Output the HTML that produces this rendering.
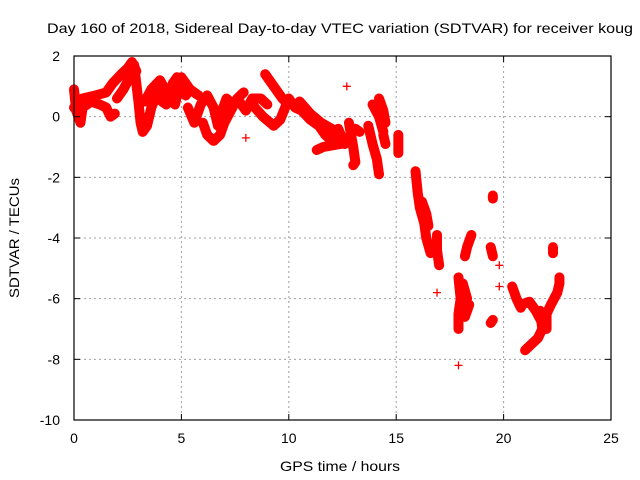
<!DOCTYPE html>
<html><head><meta charset="utf-8"><style>
body{margin:0;background:#fff;}
svg{display:block;font-family:"Liberation Sans",sans-serif;}
</style></head><body>
<svg id="chart" width="640" height="480">
<rect width="640" height="480" fill="#fff"/>
<text x="47" y="33" font-size="14" textLength="586" lengthAdjust="spacingAndGlyphs">Day 160 of 2018, Sidereal Day-to-day VTEC variation (SDTVAR) for receiver koug</text>
<g id="grid"></g>
<g id="series"></g>
<rect x="74" y="56" width="537" height="364" fill="none" stroke="#000" stroke-width="1.2"/>
<g id="axes"></g>
<text x="280" y="471" font-size="14" textLength="120" lengthAdjust="spacingAndGlyphs">GPS time / hours</text>
<text x="19" y="238" font-size="14" text-anchor="middle" textLength="120" lengthAdjust="spacingAndGlyphs" transform="rotate(-90 19 238)">SDTVAR / TECUs</text>
</svg>
<script>
const xTicks=[0,5,10,15,20,25];
const yTicks=[2,0,-2,-4,-6,-8,-10];
const trackSegments=[
[[0,0.9],[0.1,0.2],[0.3,-0.2],[0.4,0.3],[0.8,0.5],[1.2,0.4],[1.5,0.3],[1.7,0.0],[1.9,0.1]],
[[0.0,0.3],[0.4,0.6],[1.0,0.7],[1.5,0.8],[1.8,1.1],[2.2,1.4],[2.5,1.6],[2.7,1.8],[2.9,1.5]],
[[2.0,0.6],[2.3,0.9],[2.6,1.3],[2.8,1.7],[3.0,0.5],[3.1,-0.2],[3.2,-0.5],[3.4,-0.3],[3.6,0.3],[3.9,0.8],[4.1,0.5],[4.3,0.4],[4.6,1.1],[4.8,1.3],[5.0,0.9],[5.2,0.7],[5.4,0.9]],
[[3.3,0.5],[3.6,0.9],[4.0,1.2],[4.4,0.7],[4.7,0.4],[5.0,1.3],[5.4,0.9],[5.8,0.7]],
[[5.3,0.3],[5.6,-0.2],[5.9,0.4],[6.2,0.7],[6.5,0.3],[6.7,-0.3],[6.9,0.2],[7.1,0.6],[7.4,0.4],[7.7,0.5],[8.0,0.2],[8.3,0.6],[8.7,0.6],[9.0,0.4]],
[[6.0,-0.2],[6.2,-0.6],[6.5,-0.8],[6.8,-0.6],[7.0,-0.2],[7.3,0.2],[7.6,0.6],[7.9,0.8]],
[[8.9,1.4],[9.3,1.0],[9.7,0.6],[10.0,0.4]],
[[8.3,0.4],[8.8,0.0],[9.3,-0.3],[9.6,-0.1],[10,0.6],[10.3,0.3],[10.6,0.2],[11,-0.1],[11.4,-0.3],[11.7,-0.6],[12,-0.8],[12.3,-0.4],[12.6,-0.9]],
[[10.5,0.5],[11,0.1],[11.5,-0.2],[12,-0.4],[12.4,-0.9],[11.6,-1.0],[11.3,-1.1]],
[[12.8,-0.2],[12.9,-0.6],[13.0,-1.0],[13.1,-1.5],[13.0,-1.6]],
[[13.1,-0.4],[13.3,-0.5]],
[[13.9,0.4],[14.2,0.0],[14.4,-0.5]],
[[13.7,-0.3],[13.9,-0.9],[14.1,-1.4],[14.2,-1.9]],
[[14.4,-0.6],[14.5,-0.9]],
[[14.2,0.6],[14.4,0.2],[14.5,-0.2]],
[[15.1,-0.6],[15.1,-1.2]],
[[15.9,-1.8],[16.0,-2.5],[16.1,-3.0],[16.3,-3.5],[16.4,-4.0],[16.6,-4.5]],
[[16.2,-2.8],[16.4,-3.2],[16.5,-3.6]],
[[16.9,-3.9],[16.9,-4.4],[17.0,-4.9]],
[[17.9,-5.3],[18.0,-6.0],[17.9,-6.5],[17.9,-7.0]],
[[18.1,-5.5],[18.3,-6.0]],
[[18.3,-6.4],[18.4,-6.2],[18.2,-6.6]],
[[18.2,-4.6],[18.3,-4.3],[18.5,-3.9]],
[[19.5,-2.6],[19.5,-2.7]],
[[19.4,-4.3],[19.5,-4.6]],
[[19.4,-6.8],[19.5,-6.7]],
[[20.4,-5.6],[20.6,-6.0],[20.8,-6.3]],
[[20.8,-6.2],[21.2,-6.1],[21.5,-6.4],[21.8,-6.8],[22.2,-6.2],[22.5,-5.8],[22.6,-5.5],[22.6,-5.3]],
[[21.7,-6.4],[21.8,-7.0],[21.6,-7.3],[21.3,-7.5],[21.0,-7.7]],
[[22.0,-6.5],[22.0,-7.0]],
[[22.3,-4.3],[22.3,-4.5]]
];
const isolatedPoints=[[12.7,1.0],[16.9,-5.8],[17.9,-8.2],[19.8,-4.9],[19.8,-5.6],[8.0,-0.7]];
const X0=74,X1=611,Y0=56,Y1=420,XMIN=0,XMAX=25,YMIN=-10,YMAX=2;
const sx=v=>X0+(v-XMIN)/(XMAX-XMIN)*(X1-X0);
const sy=v=>Y1-(v-YMIN)/(YMAX-YMIN)*(Y1-Y0);
const NS="http://www.w3.org/2000/svg";
function mk(tag,attrs,parent){const e=document.createElementNS(NS,tag);for(const k in attrs)e.setAttribute(k,attrs[k]);parent.appendChild(e);return e;}
const grid=document.getElementById('grid'),axes=document.getElementById('axes'),series=document.getElementById('series');
xTicks.forEach(t=>{
  const x=sx(t);
  if(t>XMIN&&t<XMAX){const g=mk('line',{x1:x,x2:x,y1:Y0,y2:Y1,stroke:'#a0a0a0','stroke-dasharray':'2,3'},grid);
  
  }
  const tk=mk('line',{x1:x,x2:x,y1:Y1,y2:Y1-6,stroke:'#000'},axes);
  
  
  const tk2=mk('line',{x1:x,x2:x,y1:Y0,y2:Y0+6,stroke:'#000'},axes);
  
  
  const l=mk('text',{x:x,y:443,'font-size':14,'text-anchor':'middle'},axes);l.textContent=t;
  
  
});
yTicks.forEach(t=>{
  const y=sy(t);
  if(t>YMIN&&t<YMAX){const g=mk('line',{x1:X0,x2:X1,y1:y,y2:y,stroke:'#a0a0a0','stroke-dasharray':'2,3'},grid);
  
  }
  const tk=mk('line',{x1:X0,x2:X0+6,y1:y,y2:y,stroke:'#000'},axes);
  
  
  const tk2=mk('line',{x1:X1,x2:X1-6,y1:y,y2:y,stroke:'#000'},axes);
  
  
  const l=mk('text',{x:60,y:y+5,'font-size':14,'text-anchor':'end'},axes);l.textContent=t;
  
  
});
function plus(p){
  const x=sx(p[0]),y=sy(p[1]);
  const m=mk('path',{d:`M${x-4},${y}H${x+4}M${x},${y-4}V${y+4}`,stroke:'#f00','stroke-width':1.3},series);
  
  
}
trackSegments.forEach(seg=>{
  const pl=mk('polyline',{points:seg.map(p=>sx(p[0])+','+sy(p[1])).join(' '),fill:'none',stroke:'#f00','stroke-width':10,'stroke-linejoin':'round','stroke-linecap':'round'},series);
  
  
  seg.forEach(plus);
});
isolatedPoints.forEach(plus);
</script>
</body></html>
